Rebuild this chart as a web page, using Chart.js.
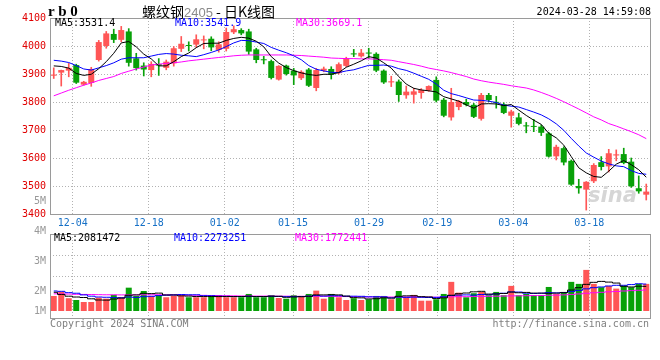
<!DOCTYPE html>
<html><head><meta charset="utf-8">
<script src="https://cdn.jsdelivr.net/npm/chart.js@4.4.1/dist/chart.umd.min.js"></script>
<style>
html,body{margin:0;padding:0;background:#fff;width:660px;height:360px;overflow:hidden;position:relative;}
.t{position:absolute;white-space:pre;line-height:1;font-family:"DejaVu Sans Mono",monospace;font-size:10px;color:#000;}
#pbox{position:absolute;left:0;top:0;width:660px;height:230px;}
#vbox{position:absolute;left:0;top:230px;width:660px;height:100px;}
</style></head><body>
<div id="pbox"><canvas id="pc"></canvas></div>
<div id="vbox"><canvas id="vc"></canvas></div>
<script>
// ---------------- data ----------------
const symbol = 'r b 0';
const titleParts = ['螺纹钢', '2405', ' - 日K线图'];
const stamp = '2024-03-28 14:59:08';
const dates = ['11-29','11-30','12-01','12-04','12-05','12-06','12-07','12-08','12-11','12-12',
 '12-13','12-14','12-15','12-18','12-19','12-20','12-21','12-22','12-25','12-26',
 '12-27','12-28','12-29','01-02','01-03','01-04','01-05','01-08','01-09','01-10',
 '01-11','01-12','01-15','01-16','01-17','01-18','01-19','01-22','01-23','01-24',
 '01-25','01-26','01-29','01-30','01-31','02-01','02-02','02-05','02-06','02-07',
 '02-08','02-19','02-20','02-21','02-22','02-23','02-26','02-27','02-28','02-29',
 '03-01','03-04','03-05','03-06','03-07','03-08','03-11','03-12','03-13','03-14',
 '03-15','03-18','03-19','03-20','03-21','03-22','03-25','03-26','03-27','03-28'];
const dateTicks = ['12-04','12-18','01-02','01-15','01-29','02-19','03-04','03-18'];
const open = [3894,3905,3912,3932,3862,3868,3950,4000,4043,4022, 4052,3956,3930,3914,3935,3922,3938,3990,4003,4005,
 4020,4026,3986,3990,4049,4057,4052,3988,3952,3946, 3880,3930,3912,3885,3916,3850,3912,3918,3903,3929,
 3972,3963,3976,3972,3912,3870,3873,3824,3826,3832, 3841,3879,3808,3745,3782,3800,3790,3740,3825,3799,
 3792,3751,3745,3716,3714,3712,3688,3606,3635,3590, 3500,3487,3517,3585,3570,3609,3614,3587,3492,3469];
const high = [3922,3914,3938,3935,3874,3924,4020,4052,4060,4070, 4062,3974,3940,3944,3955,3950,3998,4034,4015,4040,
 4036,4033,4015,4064,4072,4062,4060,3992,3963,3950, 3930,3932,3920,3912,3920,3920,3925,3926,3940,3960,
 3988,3988,3992,3976,3915,3892,3879,3857,3849,3848, 3858,3890,3813,3849,3806,3810,3795,3831,3831,3820,
 3797,3771,3760,3727,3738,3718,3692,3646,3640,3593, 3524,3516,3580,3605,3631,3629,3635,3600,3536,3507];
const low = [3884,3857,3890,3866,3860,3856,3946,3992,4012,4015, 3928,3914,3893,3890,3895,3915,3928,3980,3982,3995,
 3990,3983,3978,3982,4044,4040,3970,3940,3936,3882, 3878,3896,3862,3880,3855,3840,3908,3882,3900,3926,
 3962,3960,3956,3908,3866,3855,3802,3813,3796,3813, 3838,3800,3747,3735,3772,3786,3744,3735,3801,3778,
 3758,3710,3718,3690,3694,3680,3603,3593,3575,3502, 3474,3414,3512,3557,3550,3590,3579,3495,3474,3450];
const close = [3898,3914,3922,3869,3872,3918,4014,4045,4022,4057, 3940,3921,3916,3936,3930,3944,3992,4008,4000,4024,
 4023,3995,4006,4050,4060,4045,3980,3950,3949,3886, 3929,3900,3895,3908,3858,3914,3919,3897,3935,3956,
 3970,3976,3973,3912,3870,3874,3825,3837,3838,3843, 3857,3805,3751,3800,3803,3790,3747,3825,3807,3797,
 3761,3766,3722,3713,3711,3690,3605,3640,3584,3505, 3492,3515,3575,3568,3617,3613,3582,3499,3481,3480];
const ma5 = [3929,3927,3921,3902,3895,3899,3919,3944,3974,4011, 4016,3997,3971,3954,3929,3929,3944,3962,3975,3994,
 4009,4010,4010,4020,4027,4031,4028,4017,3997,3962, 3939,3923,3912,3904,3898,3895,3899,3899,3905,3924,
 3935,3947,3962,3957,3940,3921,3891,3864,3849,3843, 3840,3836,3819,3811,3803,3790,3778,3793,3794,3793,
 3787,3791,3771,3752,3735,3720,3688,3672,3646,3605, 3565,3547,3534,3531,3553,3578,3591,3576,3558,3531.4];
const ma10 = [3949,3946,3941,3930,3918,3914,3922,3930,3940,3953, 3958,3958,3958,3964,3970,3973,3971,3967,3965,3962,
 3969,3977,3986,3998,4011,4020,4019,4014,4009,3995, 3985,3976,3965,3951,3930,3917,3911,3906,3905,3911,
 3915,3923,3931,3931,3932,3928,3919,3913,3903,3892, 3881,3864,3842,3830,3823,3815,3807,3806,3803,3798,
 3789,3785,3782,3773,3764,3754,3740,3722,3699,3670, 3643,3618,3603,3589,3579,3572,3569,3555,3545,3541.9];
const ma30 = [3822,3832,3842,3851,3860,3868,3877,3884,3891,3902, 3910,3918,3925,3932,3935,3938,3940,3943,3947,3950,
 3953,3956,3959,3962,3965,3967,3968,3968,3968,3968, 3968,3968,3967,3966,3964,3962,3960,3957,3956,3955,
 3955,3954,3954,3953,3951,3949,3944,3939,3934,3928, 3921,3916,3911,3905,3898,3891,3882,3876,3871,3867,
 3863,3858,3854,3850,3843,3834,3824,3813,3801,3788, 3775,3761,3747,3736,3723,3714,3704,3694,3683,3669.1];
const volume = [1270000,1640000,1080000,930000,760000,760000,1130000,1040000,1360000,1160000,
 1970000,1270000,1690000,1270000,1360000,1160000,1270000,1330000,1160000,1160000,
 1160000,1270000,1330000,1160000,1160000,1160000,1440000,1160000,1160000,1330000,
 1100000,1040000,1330000,1270000,1440000,1720000,1040000,1440000,1160000,930000,
 1080000,930000,990000,1270000,1270000,990000,1690000,1160000,1360000,870000,
 870000,990000,1440000,2460000,1550000,1160000,1500000,1610000,1330000,1610000,
 1330000,2120000,1330000,1440000,1330000,1330000,2030000,1440000,1610000,2460000,
 2290000,3470000,2290000,2010000,2120000,1890000,2120000,2010000,2290000,2290000];
const volMa5 = [1580000,1400000,1250000,1180000,1140000,1030000,930000,920000,1010000,1090000,
 1330000,1360000,1490000,1470000,1510000,1350000,1350000,1280000,1260000,1220000,
 1220000,1220000,1220000,1220000,1220000,1220000,1250000,1220000,1220000,1250000,
 1240000,1160000,1190000,1210000,1240000,1360000,1360000,1380000,1360000,1260000,
 1130000,1110000,1020000,1040000,1110000,1090000,1240000,1280000,1290000,1210000,
 1190000,1050000,1110000,1330000,1460000,1520000,1620000,1660000,1430000,1440000,
 1480000,1600000,1540000,1570000,1510000,1510000,1490000,1510000,1550000,1770000,
 1970000,2250000,2420000,2500000,2440000,2360000,2090000,2030000,2090000,2081472];
const volMa10 = [1690000,1660000,1550000,1500000,1360000,1250000,1180000,1160000,1130000,1120000,
 1180000,1150000,1210000,1240000,1300000,1340000,1360000,1390000,1370000,1370000,
 1290000,1290000,1250000,1240000,1220000,1220000,1240000,1220000,1220000,1240000,
 1230000,1210000,1210000,1220000,1250000,1300000,1260000,1290000,1290000,1250000,
 1250000,1240000,1200000,1200000,1190000,1110000,1180000,1150000,1170000,1160000,
 1140000,1150000,1200000,1310000,1340000,1360000,1340000,1390000,1380000,1450000,
 1500000,1610000,1600000,1500000,1480000,1500000,1550000,1530000,1560000,1640000,
 1740000,1870000,1970000,2030000,2110000,2170000,2170000,2230000,2300000,2273251];
const volMa30 = [1450000,1440000,1430000,1410000,1400000,1390000,1380000,1370000,1370000,1360000,
 1360000,1360000,1370000,1370000,1370000,1360000,1360000,1350000,1340000,1330000,
 1320000,1310000,1300000,1290000,1280000,1270000,1270000,1260000,1260000,1260000,
 1250000,1250000,1240000,1240000,1240000,1250000,1250000,1240000,1230000,1220000,
 1210000,1200000,1190000,1190000,1190000,1180000,1190000,1190000,1190000,1180000,
 1170000,1170000,1180000,1200000,1210000,1210000,1220000,1230000,1240000,1250000,
 1260000,1280000,1280000,1290000,1300000,1310000,1330000,1340000,1360000,1400000,
 1440000,1500000,1540000,1580000,1620000,1650000,1690000,1720000,1750000,1772441];
const volAxisLabels = ['5M','4M','3M','2M','1M'];
const copyright = 'Copyright 2024 SINA.COM';
const siteUrl = 'http://finance.sina.com.cn';

// ---------------- styles / layout ----------------
const UP = '#ff5656', DOWN = '#08a108';
const MA_COLORS = ['#000000', '#0000ff', '#ff00ff'];
const GRID = '#b2b2b2', FRAME = '#9a9a9a';
const MONO = 'DejaVu Sans Mono';
const N = dates.length;
const idx = dates.map((_, i) => i);
const candleColor = idx.map(i => close[i] >= open[i] ? UP : DOWN);

Chart.defaults.animation = false;
Chart.defaults.font.family = MONO;

const framePlugin = {
  id: 'frame',
  afterDatasetsDraw(chart) {
    const { ctx, chartArea: a } = chart;
    ctx.save();
    ctx.strokeStyle = FRAME; ctx.lineWidth = 1;
    ctx.strokeRect(Math.round(a.left) + 0.5, Math.round(a.top) + 0.5,
      Math.round(a.right - a.left), Math.round(a.bottom - a.top));
    ctx.restore();
  }
};

function barAxis() {
  return { type: 'linear', display: false, min: -0.5, max: N - 0.5, offset: false, grid: { offset: false } };
}
function dateAxis(showLabels) {
  return {
    type: 'linear', position: 'bottom', min: 0, max: N - 1, offset: false,
    afterBuildTicks: s => { s.ticks = dateTicks.map(d => ({ value: dates.indexOf(d) })); },
    afterFit: s => { s.height = showLabels ? 16 : 0; },
    grid: { color: GRID, lineWidth: 1, drawTicks: false, offset: false },
    border: { display: false, dash: [1, 2] },
    ticks: { display: showLabels, autoSkip: false, maxRotation: 0, padding: 3, color: '#1670c6',
      font: { family: MONO, size: 10 }, callback: v => dates[v] }
  };
}
function lineSet(label, values, color, order, stepped) {
  return { type: 'line', label, data: idx.map(i => ({ x: i, y: values[i] })), borderColor: color,
    borderWidth: 1, pointRadius: 0, tension: 0, fill: false, order, stepped: stepped || false };
}

// ---------------- price chart ----------------
new Chart(document.getElementById('pc'), {
  type: 'bar',
  data: { datasets: [
    { label: 'wick', data: idx.map(i => ({ x: i, y: [low[i], high[i]] })), backgroundColor: candleColor,
      grouped: false, barPercentage: 1, categoryPercentage: 1, maxBarThickness: 1, order: 6 },
    { label: 'body', data: idx.map(i => ({ x: i, y: [open[i], close[i]] })), backgroundColor: candleColor,
      grouped: false, barPercentage: 0.8, categoryPercentage: 1, maxBarThickness: 6, minBarLength: 1, order: 5 },
    lineSet('MA30', ma30, MA_COLORS[2], 3),
    lineSet('MA10', ma10, MA_COLORS[1], 2),
    lineSet('MA5', ma5, MA_COLORS[0], 1)
  ]},
  options: {
    responsive: true, maintainAspectRatio: false, devicePixelRatio: 1, events: [],
    layout: { padding: { top: 18, right: 10, left: 0, bottom: 0 } },
    plugins: { legend: { display: false }, tooltip: { enabled: false } },
    scales: {
      x: barAxis(),
      xd: dateAxis(true),
      y: { type: 'linear', position: 'left', min: 3400, max: 4100,
        afterFit: s => { s.width = 50; },
        ticks: { stepSize: 100, color: '#e00000', padding: 4, font: { family: MONO, size: 10 },
          callback: v => String(v) },
        grid: { color: GRID, drawTicks: false }, border: { display: false, dash: [1, 2] } }
    }
  },
  plugins: [framePlugin]
});

// ---------------- volume chart ----------------
new Chart(document.getElementById('vc'), {
  type: 'bar',
  data: { datasets: [
    { label: 'vol', data: idx.map(i => ({ x: i, y: volume[i] })), backgroundColor: candleColor,
      grouped: false, barPercentage: 0.8, categoryPercentage: 1, maxBarThickness: 6, order: 5 },
    lineSet('MA30', volMa30, MA_COLORS[2], 3, 'middle'),
    lineSet('MA10', volMa10, MA_COLORS[1], 2, 'middle'),
    lineSet('MA5', volMa5, MA_COLORS[0], 1, 'middle')
  ]},
  options: {
    responsive: true, maintainAspectRatio: false, devicePixelRatio: 1, events: [],
    layout: { padding: { top: 4, right: 10, left: 0, bottom: 12 } },
    plugins: { legend: { display: false }, tooltip: { enabled: false } },
    scales: {
      x: barAxis(),
      xd: dateAxis(false),
      y: { type: 'linear', position: 'left', min: -590000, max: 6500000,
        afterFit: s => { s.width = 50; },
        afterBuildTicks: s => { s.ticks = [0, 1, 2, 3, 4].map(j => ({ value: s.min + j * (s.max - s.min) / 4 })); },
        ticks: { display: false },
        grid: { drawTicks: false, color: c => (c.index === 2 || c.index === 3) ? GRID : 'rgba(0,0,0,0)' },
        border: { display: false, dash: [1, 2] } }
    }
  },
  plugins: [framePlugin]
});

// ---------------- texts ----------------
function put(text, pos, style) {
  const d = document.createElement('div');
  d.className = 't'; d.textContent = text;
  for (const k in pos) d.style[k] = pos[k] + 'px';
  Object.assign(d.style, style || {});
  document.body.appendChild(d);
  return d;
}
put(symbol, { left: 48, top: 4 }, { fontFamily: '"Liberation Serif", serif', fontWeight: 'bold', fontSize: '15px' });
const title = put('', { left: 142, top: 4 }, { fontFamily: '"Noto Sans CJK SC", sans-serif', fontSize: '14px' });
titleParts.forEach((p, k) => {
  const s = document.createElement('span'); s.textContent = p;
  if (k === 1) { s.style.color = '#8a8a8a'; s.style.fontFamily = '"Liberation Sans", sans-serif'; s.style.fontSize = '13px'; }
  title.appendChild(s);
});
put(stamp, { right: 9, top: 7 });

const legendX = [55, 175, 296];
[['MA5', ma5], ['MA10', ma10], ['MA30', ma30]].forEach(([n, arr], k) =>
  put(n + ':' + arr[N - 1].toFixed(1), { left: legendX[k], top: 18 }, { color: MA_COLORS[k] }));
[['MA5', volMa5], ['MA10', volMa10], ['MA30', volMa30]].forEach(([n, arr], k) =>
  put(n + ':' + Math.round(arr[N - 1]), { left: legendX[k] - 1, top: 233 }, { color: MA_COLORS[k] }));

const volLabelTop = [196, 226, 256, 286, 306];
volAxisLabels.forEach((t, k) => put(t, { right: 614, top: volLabelTop[k] }, { color: '#999' }));

put(copyright, { left: 50, top: 319 }, { color: '#808080' });
put(siteUrl, { right: 11, top: 319 }, { color: '#808080' });
put('sina', { left: 588, top: 185 }, { fontFamily: '"DejaVu Sans", sans-serif', fontStyle: 'italic', fontWeight: 'bold', fontSize: '21px', color: '#d6d6d6' });
</script>
</body></html>
